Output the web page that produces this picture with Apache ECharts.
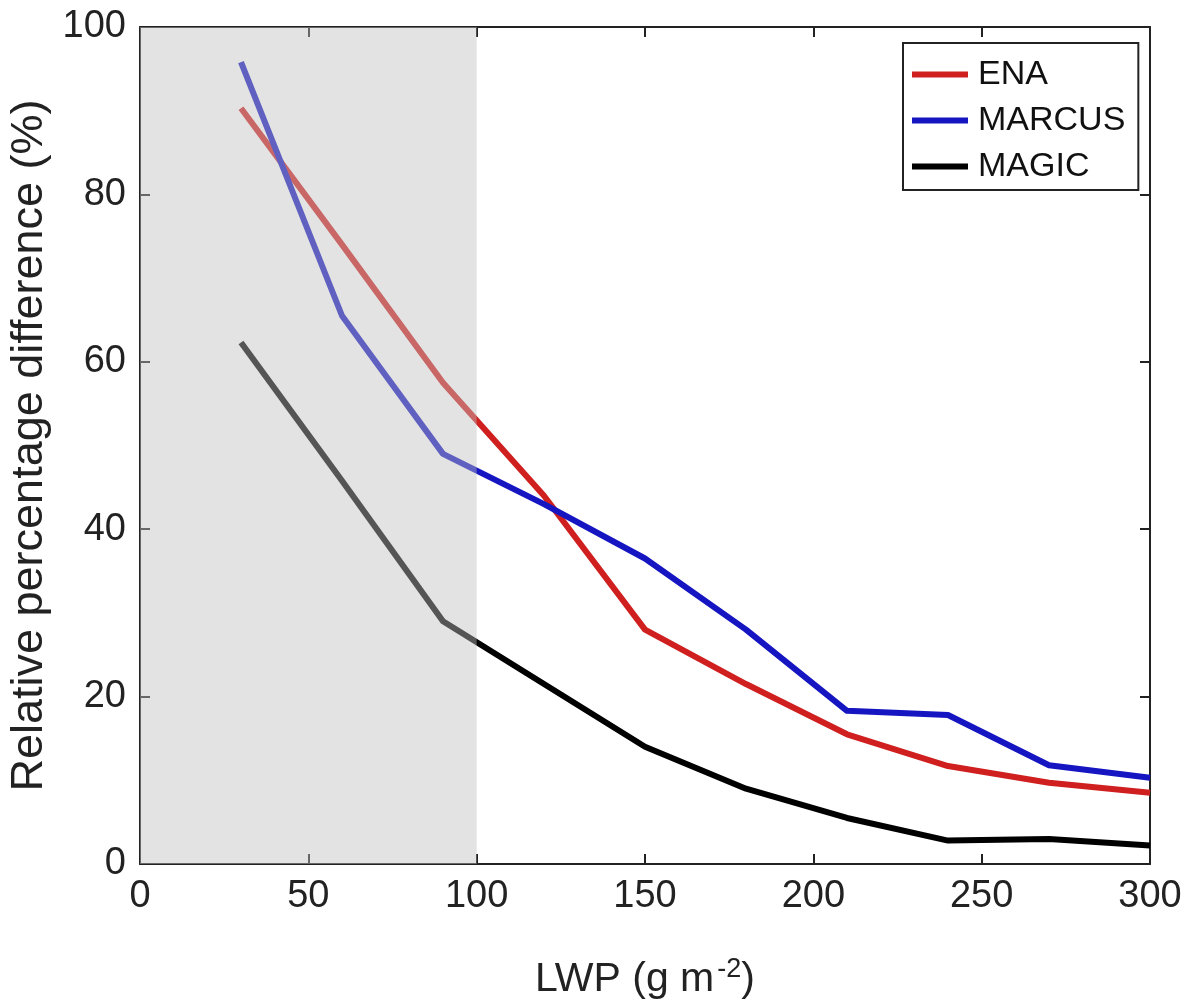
<!DOCTYPE html>
<html>
<head>
<meta charset="utf-8">
<script src="https://cdn.jsdelivr.net/npm/echarts@6/dist/echarts.min.js"></script>
<style>
  html, body { margin: 0; padding: 0; background: #fff; }
  #chart { width: 1196px; height: 1000px; }
</style>
</head>
<body>
<div id="chart"></div>
<script>
// LWP bins (g m-2)
var lwp = [30, 60, 90, 120, 150, 180, 210, 240, 270, 300];
// relative percentage difference (%)
var ena    = [90.3, 74.0, 57.5, 44.0, 28.0, 21.5, 15.5, 11.7, 9.7, 8.5];
var marcus = [95.8, 65.5, 49.0, 43.0, 36.5, 28.0, 18.3, 17.8, 11.8, 10.3];
var magic  = [62.3, 45.8, 29.0, 21.5, 14.0, 9.0, 5.5, 2.8, 3.0, 2.2];
var shadeRange = [0, 100];

var fontFam = '"Liberation Sans", Arial, Helvetica, sans-serif';
var axisColor = '#222';

function pairs(ys) {
    var out = [];
    ys.forEach(function (y, i) { out.push([lwp[i], y]); });
    return out;
}

function lineSeries(name, color, ys) {
    return {
        name: name,
        type: 'line',
        data: pairs(ys),
        showSymbol: false,
        symbol: 'none',
        z: 2,
        lineStyle: { color: color, width: 6, join: 'round' },
        itemStyle: { color: color }
    };
}

// box style axis, ticks pointing into the plot
function boxAxis(extra) {
    var ax = {
        type: 'value',
        axisLine: { show: true, onZero: false, lineStyle: { color: axisColor, width: 2 } },
        axisTick: { show: true, inside: true, length: 10, lineStyle: { color: axisColor, width: 2 } },
        splitLine: { show: false }
    };
    for (var k in extra) ax[k] = extra[k];
    return ax;
}

var chart = echarts.init(document.getElementById('chart'), null, { renderer: 'canvas' });

var option = {
    backgroundColor: '#fff',
    animation: false,
    textStyle: { fontFamily: fontFam },
    grid: { left: 140, right: 46, top: 27, bottom: 136, containLabel: false, outerBoundsMode: 'none' },
    legend: {
        data: ['ENA', 'MARCUS', 'MAGIC'],
        orient: 'vertical',
        left: 903,
        top: 43,
        icon: 'rect',
        itemWidth: 56,
        itemHeight: 6,
        itemGap: 11,
        padding: [14, 13, 6, 9],
        borderColor: axisColor,
        borderWidth: 2,
        backgroundColor: '#fff',
        textStyle: { fontSize: 34, color: '#111', fontFamily: fontFam, lineHeight: 35, padding: [0, 0, 0, 5] }
    },
    xAxis: [
        boxAxis({
            min: 0, max: 300, interval: 50,
            name: 'LWP (g m{sup|-2})',
            nameLocation: 'middle',
            nameGap: 92,
            nameTextStyle: {
                fontSize: 41, color: '#222', fontFamily: fontFam,
                rich: { sup: { fontSize: 27, color: '#222', padding: [0, 0, 20, 3] } }
            },
            axisLabel: { fontSize: 38, color: '#222', margin: 14, fontFamily: fontFam }
        }),
        boxAxis({
            position: 'top',
            min: 0, max: 300, interval: 50,
            axisLabel: { show: false }
        })
    ],
    yAxis: [
        boxAxis({
            min: 0, max: 100, interval: 20,
            name: 'Relative percentage difference (%)',
            nameLocation: 'middle',
            nameGap: 88,
            nameTextStyle: { fontSize: 45, color: '#222', fontFamily: fontFam },
            axisLabel: { fontSize: 38, color: '#222', margin: 14, fontFamily: fontFam }
        }),
        boxAxis({
            position: 'right',
            min: 0, max: 100, interval: 20,
            axisLabel: { show: false }
        })
    ],
    series: [
        lineSeries('ENA', '#d01f1f', ena),
        lineSeries('MARCUS', '#1515c2', marcus),
        lineSeries('MAGIC', '#000000', magic),
        {
            name: 'shade',
            type: 'line',
            data: [],
            z: 5,
            silent: true,
            markArea: {
                z: 5,
                silent: true,
                itemStyle: { color: 'rgb(192,192,192)', opacity: 0.443 },
                data: [[{ xAxis: shadeRange[0] }, { xAxis: shadeRange[1] }]]
            }
        }
    ]
};

chart.setOption(option);
</script>
</body>
</html>
